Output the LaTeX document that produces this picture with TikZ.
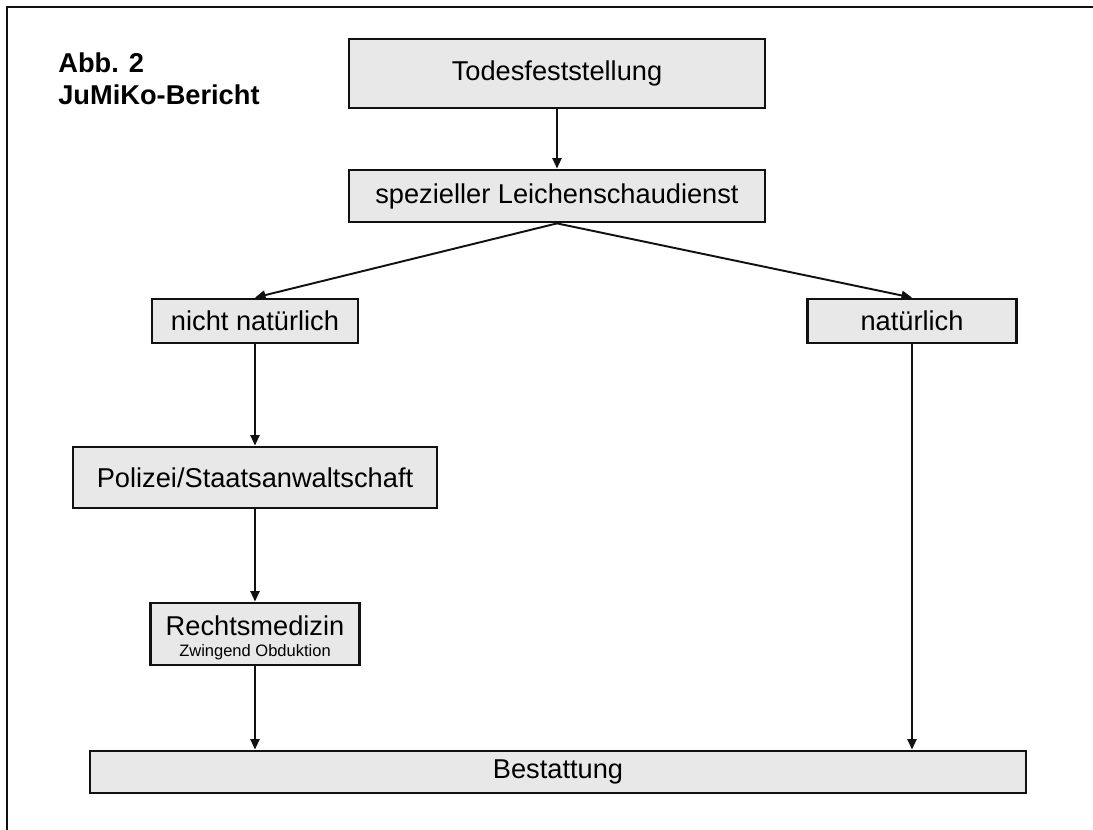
\documentclass[tikz,border=0pt]{standalone}
\usepackage{fontspec}
\setmainfont{Liberation Sans}
\usepackage{xcolor}
\usepackage{tikz}
\usetikzlibrary{arrows.meta,positioning}
\definecolor{cBox}{HTML}{E8E8E8}
\definecolor{cLine}{HTML}{111111}
\tikzset{
  box/.style   = {rectangle, draw=cLine, fill=cBox, line width=1.6pt,
                  align=center, inner sep=2pt, font=\fontsize{15.5}{18}\selectfont},
  fl/.style    = {-{Triangle[length=6pt,width=5.2pt]}, draw=cLine, line width=1.1pt},
  ttl/.style   = {anchor=north west, align=left, inner sep=0pt,
                  font=\fontsize{15.5}{18.2}\selectfont\bfseries},
}

\begin{document}
\begin{tikzpicture}[x=0.02cm, y=-0.02cm]
  \useasboundingbox (0,0) rectangle (1093,830);
  \draw[line width=0.7pt, draw=cLine] (7,830) -- (7,7) -- (1093,7);

  \node[ttl] (title) at (58,52) {Abb. 2\\JuMiKo-Bericht};

  \node[box, minimum width=8.32cm, minimum height=1.38cm] (tod) at (557,73.5) {Todesfeststellung};
  \node[box, minimum width=8.32cm, minimum height=1.04cm] (lsd) at (557,196) {spezieller Leichenschaudienst};

  \node[box, minimum width=4.12cm, minimum height=0.88cm] (nnat) at (255,321) {nicht natürlich};
  \node[box, minimum width=4.18cm, minimum height=0.88cm] (nat) at (912,321) {natürlich};

  \node[box, minimum width=7.28cm, minimum height=1.22cm] (pol) at (255,477.5) {Polizei/Staatsanwaltschaft};
  \node[box, minimum width=4.18cm, minimum height=1.24cm] (rmed) at (255,634)
    {\rule{0pt}{16pt}Rechtsmedizin\\[-6pt]{\fontsize{9.4}{11}\selectfont Zwingend Obduktion}};

  \node[box, minimum width=18.72cm, minimum height=0.84cm] (best) at (558,772) {Bestattung};

  \draw[fl] (tod) -- (lsd);
  \draw[fl] (lsd.south) -- (nnat.north);
  \draw[fl] (lsd.south) -- (nat.north);
  \draw[fl] (nnat) -- (pol);
  \draw[fl] (pol) -- (rmed);
  \draw[fl] (rmed.south) -- (rmed.south |- best.north);
  \draw[fl] (nat.south) -- (nat.south |- best.north);
\end{tikzpicture}
\end{document}
